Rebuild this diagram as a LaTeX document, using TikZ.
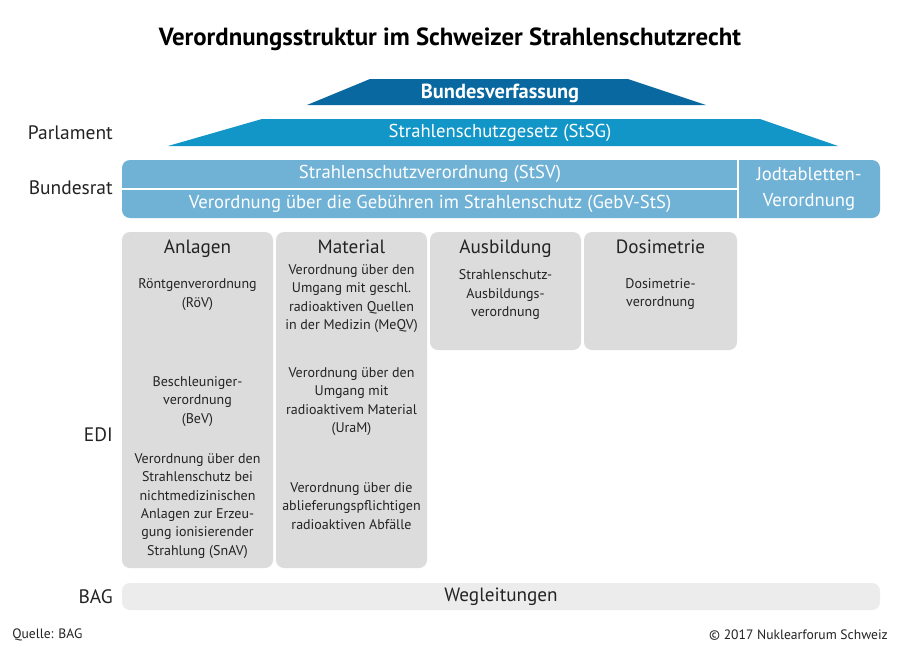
\documentclass[tikz,border=0pt]{standalone}
\usepackage{fontspec}
\setmainfont{PT Sans}
\definecolor{bvblue}{RGB}{10,104,160}
\definecolor{sgblue}{RGB}{18,150,200}
\definecolor{brblue}{RGB}{112,178,214}
\definecolor{colgray}{RGB}{220,220,220}
\definecolor{weggray}{RGB}{236,236,236}
\definecolor{txt}{RGB}{35,35,35}
\tikzset{
  lbl/.style={anchor=east,text=txt,font=\fontsize{14.6}{17}\selectfont,inner sep=0pt},
  wtxt/.style={text=white,font=\fontsize{14}{16}\selectfont,inner sep=0pt,align=center},
  head/.style={text=txt,font=\fontsize{14.4}{16}\selectfont,inner sep=0pt},
  item/.style={text=txt,font=\fontsize{10.5}{13.7}\selectfont,inner sep=0pt,align=center},
  colbox/.style={fill=colgray,rounded corners=6pt},
}
\begin{document}
\begin{tikzpicture}[x=0.75pt,y=-0.75pt]
\useasboundingbox[fill=white] (0,0) rectangle (900,651);
% title
\node[text=black,font=\fontsize{18.6}{21}\bfseries,inner sep=0pt] (title) at (450,39) {Verordnungsstruktur im Schweizer Strahlenschutzrecht};
% Bundesverfassung
\fill[bvblue] (307,105) -- (370,79) -- (628,79) -- (706,105) -- cycle;
\node[wtxt,font=\fontsize{15.3}{17}\bfseries] (bv) at (500,93) {Bundesverfassung};
% StSG
\fill[sgblue] (168,146) -- (262,119) -- (760,119) -- (838,146) -- cycle;
\node[wtxt] (stsg) at (500,133) {Strahlenschutzgesetz (StSG)};
% Bundesrat
\fill[brblue,rounded corners=6pt] (122,160) rectangle (880,218);
\draw[white,line width=1.5pt] (738,160) -- (738,218);
\draw[white,line width=1.5pt] (122,188.5) -- (738,188.5);
\node[wtxt] (stsv) at (430,174) {Strahlenschutzverordnung (StSV)};
\node[wtxt] (gebv) at (430,204) {Verordnung über die Gebühren im Strahlenschutz (GebV-StS)};
\node[wtxt,font=\fontsize{14}{20}\selectfont] (jod) at (809,189) {Jodtabletten-\\Verordnung};
% labels
\node[lbl] (parl) at (113,133) {Parlament};
\node[lbl] (br) at (113,188) {Bundesrat};
\node[lbl] (edi) at (113,435) {EDI};
\node[lbl] (bag) at (113,597) {BAG};
% columns
\fill[colbox] (122,232) rectangle (273,568);
\fill[colbox] (276,232) rectangle (427,568);
\fill[colbox] (430,232) rectangle (581,350);
\fill[colbox] (584,232) rectangle (737,350);
\node[head,anchor=base] (h1) at (197.5,253) {Anlagen};
\node[head,anchor=base] (h2) at (351.5,253) {Material};
\node[head,anchor=base] (h3) at (505.5,253) {Ausbildung};
\node[head,anchor=base] (h4) at (660.5,253) {Dosimetrie};
\node[item] (a1) at (197.5,294.5) {Röntgenverordnung\\(RöV)};
\node[item] (a2) at (197.5,401.5) {Beschleuniger-\\verordnung\\(BeV)};
\node[item] (a3) at (197.5,506) {Verordnung über den\\Strahlenschutz bei\\nichtmedizinischen\\Anlagen zur Erzeu-\\gung ionisierender\\Strahlung (SnAV)};
\node[item] (m1) at (351.5,298.5) {Verordnung über den\\Umgang mit geschl.\\radioaktiven Quellen\\in der Medizin (MeQV)};
\node[item] (m2) at (351.5,401.5) {Verordnung über den\\Umgang mit\\radioaktivem Material\\(UraM)};
\node[item] (m3) at (351.5,506) {Verordnung über die\\ablieferungspflichtigen\\radioaktiven Abfälle};
\node[item] (b1) at (505.5,294.5) {Strahlenschutz-\\Ausbildungs-\\verordnung};
\node[item] (d1) at (660.5,294) {Dosimetrie-\\verordnung};
% Wegleitungen
\fill[weggray,rounded corners=6pt] (122,583) rectangle (880,610);
\node[head] (weg) at (501,597) {Wegleitungen};
% footer
\node[anchor=west,text=txt,font=\fontsize{10.2}{12}\selectfont,inner sep=0pt] (src) at (12,635) {Quelle: BAG};
\node[anchor=east,text=txt,font=\fontsize{10.2}{12}\selectfont,inner sep=0pt] (copy) at (888,635) {© 2017 Nuklearforum Schweiz};
\end{tikzpicture}
\end{document}
